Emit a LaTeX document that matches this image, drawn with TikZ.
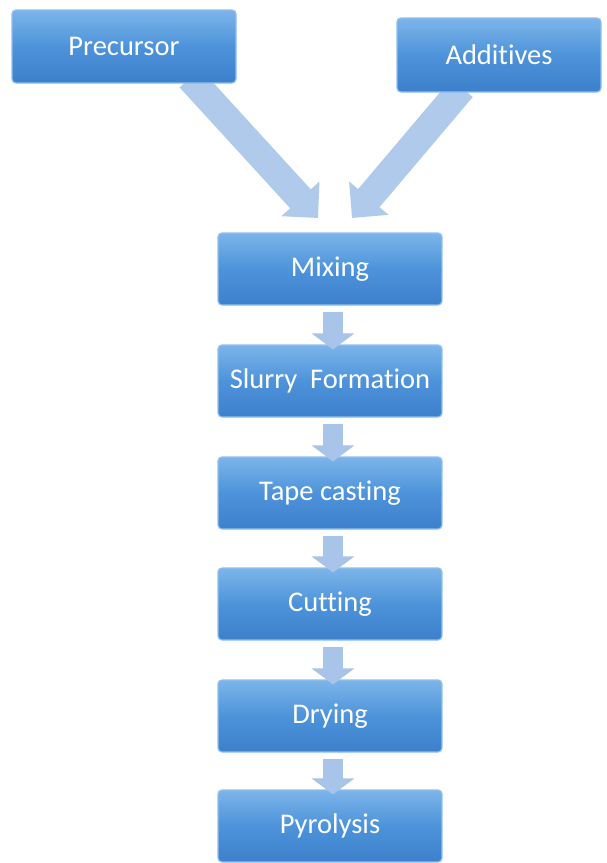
\documentclass[tikz,border=0pt]{standalone}
\usepackage{fontspec}
\setmainfont{Carlito}[Ligatures=NoCommon]
\usetikzlibrary{arrows.meta,calc}
\definecolor{boxtop}{HTML}{7DB5EA}
\definecolor{boxmid}{HTML}{4D93DA}
\definecolor{boxbot}{HTML}{3C80CB}
\definecolor{boxedge}{HTML}{8EC0EE}
\definecolor{bigarr}{HTML}{AFCAEB}
\definecolor{smallarr}{HTML}{A8C4E8}
\tikzset{
  stepbox/.style={rectangle, rounded corners=4pt, draw=boxedge, line width=1.2pt,
    top color=boxtop, bottom color=boxbot, middle color=boxmid,
    text=white, font=\fontsize{28.5}{31}\selectfont, inner sep=0pt},
  bigarrow/.style={line width=28pt, bigarr,
    -{Triangle[width=50pt,length=26pt]}},
  smallarrow/.style={line width=20pt, smallarr,
    -{Triangle[width=42pt,length=16pt]}}
}
\begin{document}
\begin{tikzpicture}[x=1pt,y=1pt]
\useasboundingbox (0,0) rectangle (607,-863);
\fill[white] (0,0) rectangle (607,-863);
% big arrows first (behind boxes)
\coordinate (lt) at (190,-78);
\coordinate (ltip) at (318,-218);
\coordinate (rt) at (462,-88);
\coordinate (rtip) at (352,-218);
\draw[bigarrow] (lt) -- (ltip);
\draw[bigarrow] (rt) -- (rtip);
\node[stepbox, minimum width=224pt, minimum height=73pt] (pre) at (124,-46.5) {\raisebox{-2pt}{Precursor}};
\node[stepbox, minimum width=204pt, minimum height=74pt] (add) at (499,-55) {\raisebox{-2pt}{Additives}};
\node[stepbox, minimum width=224pt, minimum height=72pt] (mix) at (330,-269) {\raisebox{-2pt}{Mixing}};
\node[stepbox, minimum width=224pt, minimum height=72pt] (slu) at (330,-381) {\raisebox{-2pt}{Slurry\ \ Formation}};
\node[stepbox, minimum width=224pt, minimum height=72pt] (tap) at (330,-493) {\raisebox{-2pt}{Tape casting}};
\node[stepbox, minimum width=224pt, minimum height=72pt] (cut) at (330,-604) {\raisebox{-2pt}{Cutting}};
\node[stepbox, minimum width=224pt, minimum height=72pt] (dry) at (330,-716) {\raisebox{-2pt}{Drying}};
\node[stepbox, minimum width=224pt, minimum height=72pt] (pyr) at (330,-826) {\raisebox{-2pt}{Pyrolysis}};
\foreach \a/\b in {mix/slu, slu/tap, tap/cut, cut/dry, dry/pyr}{
  \draw[smallarrow] ($(\a.south)+(3,-6)$) -- ($(\b.north)+(3,-5)$);
}
\end{tikzpicture}
\end{document}
